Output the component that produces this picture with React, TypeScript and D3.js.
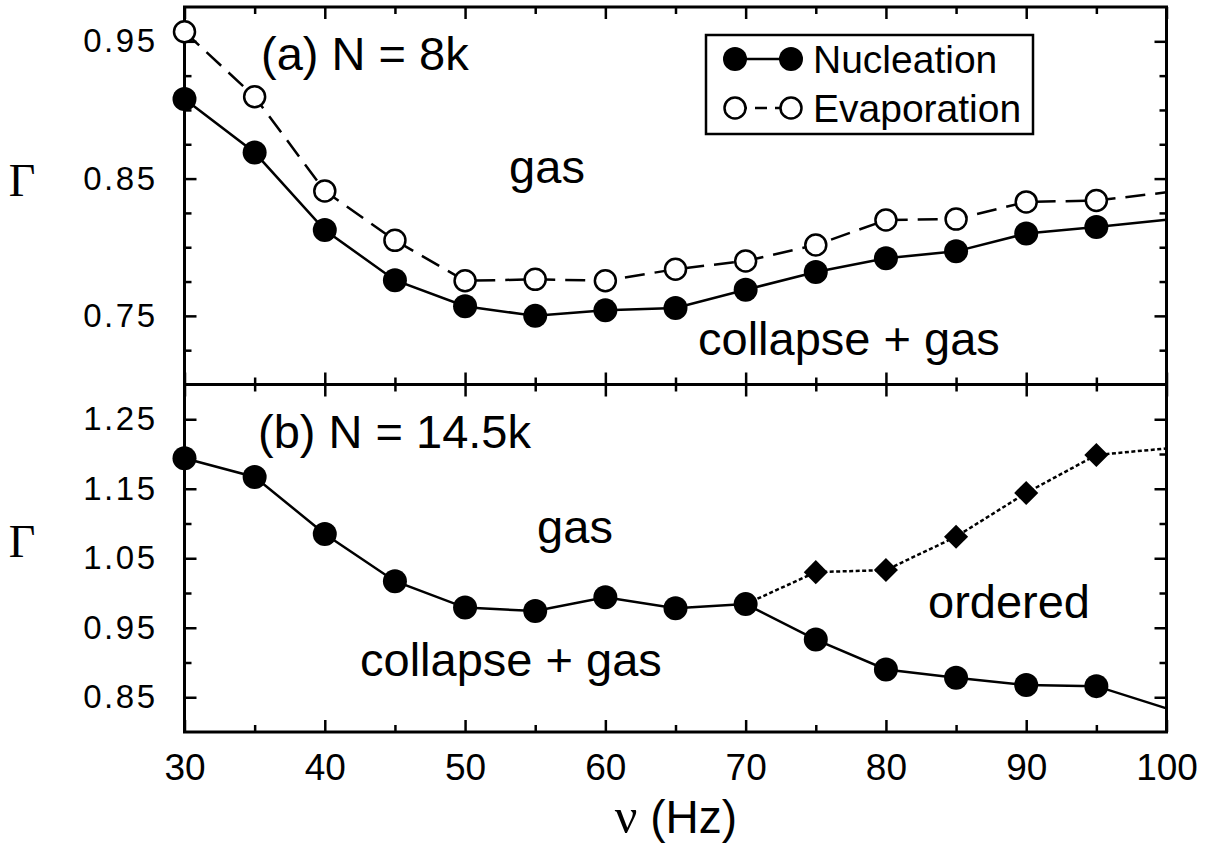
import React, { useRef, useEffect } from "react";
import * as d3 from "d3";

// frequencies (Hz); the value at 100 is only where the line meets the frame
const freqs = [30, 35, 40, 45, 50, 55, 60, 65, 70, 75, 80, 85, 90, 95, 100];

// panel (a) N = 8k
const nucleationA = [0.908, 0.869, 0.8125, 0.776, 0.757, 0.75, 0.754, 0.7557, 0.769, 0.782, 0.792, 0.797, 0.81, 0.8147, 0.82];
const evaporationA = [0.957, 0.9096, 0.841, 0.805, 0.7756, 0.7766, 0.7756, 0.784, 0.79, 0.8016, 0.8198, 0.8205, 0.833, 0.834, 0.84];

// panel (b) N = 14.5k
const nucleationB = [1.194, 1.167, 1.085, 1.017, 0.979, 0.974, 0.994, 0.978, 0.984, 0.933, 0.89, 0.878, 0.8676, 0.866, 0.834];
const orderedFreqs = [70, 75, 80, 85, 90, 95, 100];
const orderedB = [0.984, 1.03, 1.033, 1.081, 1.144, 1.1986, 1.208];

// ticks
const xMajor = [30, 40, 50, 60, 70, 80, 90, 100];
const xMinor = [35, 45, 55, 65, 75, 85, 95];
const yMajorA = [0.75, 0.85, 0.95];
const yMinorA = [0.725, 0.775, 0.8, 0.825, 0.875, 0.9, 0.925];
const yMajorB = [0.85, 0.95, 1.05, 1.15, 1.25];
const yMinorB = [0.9, 1.0, 1.1, 1.2];

const legendLabels = ["Nucleation", "Evaporation"];

const SANS = "'Liberation Sans', Arial, Helvetica, sans-serif";
const SERIF = "'Liberation Serif', 'Times New Roman', serif";

export default function App() {
  const svgRef = useRef<SVGSVGElement>(null);

  useEffect(() => {
    if (!svgRef.current) return;
    const svg = d3.select(svgRef.current);
    svg.selectAll("*").remove();

    const left = 184.5;
    const right = 1166.5;
    const top = 7;
    const mid = 384.5;
    const bottom = 732;

    const x = d3.scaleLinear().domain([30, 100]).range([left, right]);
    const yA = d3.scaleLinear().domain([0.7, 0.975]).range([mid, top]);
    const yB = d3.scaleLinear().domain([0.8, 1.3]).range([bottom, mid]);

    const styleAxis = (g: any) => {
      g.select(".domain").remove();
      g.selectAll(".tick line").attr("stroke", "#000").attr("stroke-width", 2.5);
    };

    const drawPanel = (y: any, y0: number, y1: number, major: number[], minor: number[], showX: boolean) => {
      const g = svg.append("g");
      // left axis with labels
      g.append("g")
        .attr("transform", `translate(${left},0)`)
        .call(d3.axisLeft(y).tickValues(major).tickSize(-12).tickPadding(27).tickFormat(d3.format(".2f")))
        .call(styleAxis)
        .selectAll("text")
        .attr("font-family", SANS)
        .attr("font-size", 33)
        .attr("letter-spacing", 2.5)
        .attr("fill", "#000");
      g.append("g")
        .attr("transform", `translate(${left},0)`)
        .call(d3.axisLeft(y).tickValues(minor).tickSize(-7).tickFormat(() => ""))
        .call(styleAxis);
      // right mirror
      g.append("g")
        .attr("transform", `translate(${right},0)`)
        .call(d3.axisRight(y).tickValues(major).tickSize(-12).tickFormat(() => ""))
        .call(styleAxis);
      g.append("g")
        .attr("transform", `translate(${right},0)`)
        .call(d3.axisRight(y).tickValues(minor).tickSize(-7).tickFormat(() => ""))
        .call(styleAxis);
      // top ticks
      g.append("g")
        .attr("transform", `translate(0,${y1})`)
        .call(d3.axisTop(x).tickValues(xMajor).tickSize(-12).tickFormat(() => ""))
        .call(styleAxis);
      g.append("g")
        .attr("transform", `translate(0,${y1})`)
        .call(d3.axisTop(x).tickValues(xMinor).tickSize(-7).tickFormat(() => ""))
        .call(styleAxis);
      // bottom ticks
      const bx = g.append("g")
        .attr("transform", `translate(0,${y0})`)
        .call(
          d3.axisBottom(x).tickValues(xMajor).tickSize(-12).tickPadding(22)
            .tickFormat(showX ? d3.format("d") : () => "")
        )
        .call(styleAxis);
      bx.selectAll("text")
        .attr("font-family", SANS)
        .attr("font-size", 37)
        .attr("fill", "#000");
      g.append("g")
        .attr("transform", `translate(0,${y0})`)
        .call(d3.axisBottom(x).tickValues(xMinor).tickSize(-7).tickFormat(() => ""))
        .call(styleAxis);
      // frame
      g.append("rect")
        .attr("x", left)
        .attr("y", y1)
        .attr("width", right - left)
        .attr("height", y0 - y1)
        .attr("fill", "none")
        .attr("stroke", "#000")
        .attr("stroke-width", 3);
    };

    drawPanel(yA, mid, top, yMajorA, yMinorA, false);
    drawPanel(yB, bottom, mid, yMajorB, yMinorB, true);

    const plot = svg.append("g");

    const drawLine = (xs: number[], vs: number[], y: any, dash: string | null) => {
      const line = d3.line<number>().x((_, i) => x(xs[i])).y((v) => y(v));
      plot.append("path")
        .attr("d", line(vs))
        .attr("fill", "none")
        .attr("stroke", "#000")
        .attr("stroke-width", 2.5)
        .attr("stroke-dasharray", dash);
    };

    const drawCircles = (xs: number[], vs: number[], y: any, open: boolean) => {
      plot.selectAll(null)
        .data(vs.filter((_, i) => xs[i] < 100).map((v, i) => ({ f: xs[i], v })))
        .enter()
        .append("circle")
        .attr("cx", (d: any) => x(d.f))
        .attr("cy", (d: any) => y(d.v))
        .attr("r", open ? 10.5 : 12)
        .attr("fill", open ? "#fff" : "#000")
        .attr("stroke", "#000")
        .attr("stroke-width", open ? 2.5 : 0);
    };

    // panel (a)
    drawLine(freqs, evaporationA, yA, "20 10");
    drawLine(freqs, nucleationA, yA, null);
    drawCircles(freqs, evaporationA, yA, true);
    drawCircles(freqs, nucleationA, yA, false);

    // panel (b)
    drawLine(orderedFreqs, orderedB, yB, "4 2.5");
    const diamond = d3.symbol().type(d3.symbolSquare).size(290);
    plot.selectAll(null)
      .data(orderedB.map((v, i) => ({ f: orderedFreqs[i], v })).filter((d) => d.f > 70 && d.f < 100))
      .enter()
      .append("path")
      .attr("d", diamond() as string)
      .attr("transform", (d: any) => `translate(${x(d.f)},${yB(d.v)}) rotate(45)`)
      .attr("fill", "#000");
    drawLine(freqs, nucleationB, yB, null);
    drawCircles(freqs, nucleationB, yB, false);

    // legend
    const lg = svg.append("g");
    lg.append("rect")
      .attr("x", 706)
      .attr("y", 35)
      .attr("width", 327)
      .attr("height", 99)
      .attr("fill", "#fff")
      .attr("stroke", "#000")
      .attr("stroke-width", 2.5);
    legendLabels.forEach((label, i) => {
      const cy = 59 + i * 49;
      const open = i === 1;
      lg.append("line")
        .attr("x1", 735)
        .attr("x2", 791)
        .attr("y1", cy)
        .attr("y2", cy)
        .attr("stroke", "#000")
        .attr("stroke-width", 2.5)
        .attr("stroke-dasharray", open ? "12 8" : null);
      [735, 791].forEach((cx) => {
        lg.append("circle")
          .attr("cx", cx)
          .attr("cy", cy)
          .attr("r", open ? 10.5 : 12)
          .attr("fill", open ? "#fff" : "#000")
          .attr("stroke", "#000")
          .attr("stroke-width", open ? 2.5 : 0);
      });
      lg.append("text")
        .attr("x", 813)
        .attr("y", cy + 14)
        .attr("font-family", SANS)
        .attr("font-size", 39)
        .text(label);
    });

    // annotations
    const note = (tx: number, ty: number, txt: string, anchor = "start", size = 47) =>
      svg.append("text")
        .attr("x", tx)
        .attr("y", ty)
        .attr("text-anchor", anchor)
        .attr("font-family", SANS)
        .attr("font-size", size)
        .attr("fill", "#000")
        .text(txt);

    note(261, 70, "(a) N = 8k");
    note(547, 183, "gas", "middle");
    note(698, 355, "collapse + gas");
    note(258, 448, "(b) N = 14.5k");
    note(575, 543, "gas", "middle");
    note(360, 676, "collapse + gas");
    note(928, 618, "ordered");

    // axis titles
    [196, 557].forEach((by) => {
      svg.append("text")
        .attr("x", 22)
        .attr("y", by)
        .attr("text-anchor", "middle")
        .attr("font-family", SERIF)
        .attr("font-size", 46)
        .text("Γ");
    });

    const xl = svg.append("text")
      .attr("x", 737)
      .attr("y", 833)
      .attr("text-anchor", "end")
      .attr("font-family", SANS)
      .attr("font-size", 46);
    xl.append("tspan").attr("font-family", SERIF).attr("font-size", 50).text("ν");
    xl.append("tspan").text(" (Hz)");
  }, []);

  return (
    <svg
      ref={svgRef}
      width={1208}
      height={844}
      style={{ position: "absolute", left: 0, top: 0, background: "#fff" }}
    />
  );
}
